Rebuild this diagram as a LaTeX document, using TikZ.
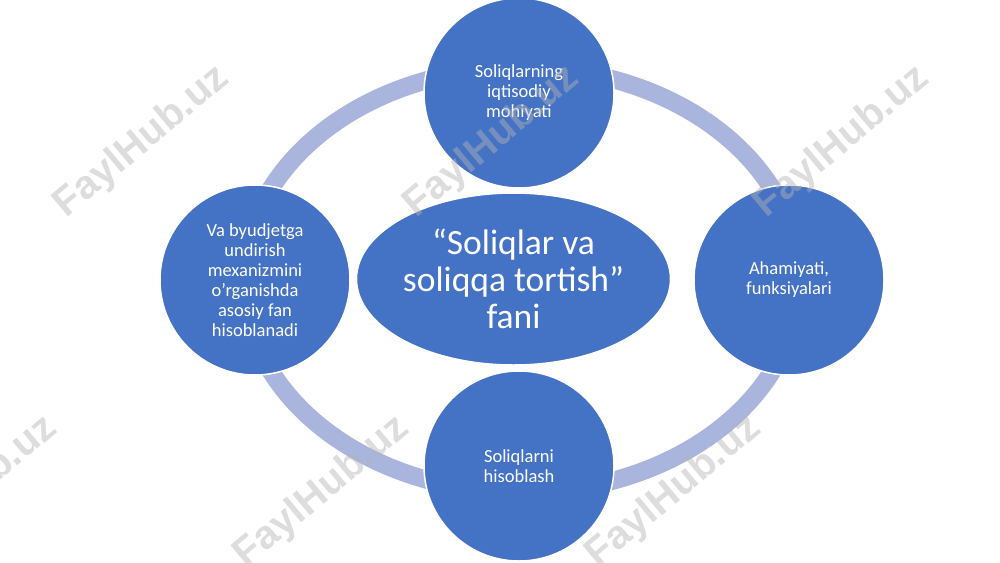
\documentclass[tikz,border=0pt]{standalone}
\usepackage{fontspec}
\setmainfont{Carlito}
\newfontfamily\wmfont{Liberation Sans}
\usetikzlibrary{shapes.geometric}
\definecolor{nodeblue}{RGB}{68,114,196}
\definecolor{ringcol}{RGB}{170,181,221}
\definecolor{wmgray}{RGB}{180,180,180}
\tikzset{
  bubble/.style={circle, fill=nodeblue, draw=white, line width=1.5pt, minimum size=190pt, inner sep=0pt,
    text=white, align=center, font=\fontsize{18.5}{20}\selectfont},
  hub/.style={ellipse, fill=nodeblue, draw=white, line width=1.5pt, minimum width=314pt, minimum height=172pt,
    inner sep=0pt, text=white, align=center, font=\fontsize{35.5}{37}\selectfont},
  ringstyle/.style={ellipse, draw=ringcol, line width=18pt, minimum width=555pt, minimum height=425pt, inner sep=0pt},
  wm/.style={text=wmgray, opacity=0.45, rotate=40, font=\wmfont\bfseries\fontsize{40}{40}\selectfont, inner sep=0pt}
}
\begin{document}
\begin{tikzpicture}[x=1pt,y=-1pt]
\useasboundingbox[fill=white] (0,0) rectangle (1000,562);
\node[ringstyle] (ring) at (521.5,280) {};
\node[hub] (center) at (513.5,279) {“Soliqlar va\\soliqqa tortish”\\fani};
\node[bubble] (top) at (519,93) {Soliqlarning\\iqtisodiy\\mohiyati};
\node[bubble] (left) at (255,280) {Va byudjetga\\undirish\\mexanizmini\\o’rganishda\\asosiy fan\\hisoblanadi};
\node[bubble] (right) at (789,280) {Ahamiyati,\\funksiyalari};
\node[bubble] (bottom) at (519,466) {Soliqlarni\\hisoblash};
\node[wm] (wm1) at (142,142) {FaylHub.uz};
\node[wm] (wm2) at (492,142) {FaylHub.uz};
\node[wm] (wm3) at (842,142) {FaylHub.uz};
\node[wm] (wm4) at (-30,492) {FaylHub.uz};
\node[wm] (wm5) at (322,492) {FaylHub.uz};
\node[wm] (wm6) at (674,492) {FaylHub.uz};
\end{tikzpicture}
\end{document}
